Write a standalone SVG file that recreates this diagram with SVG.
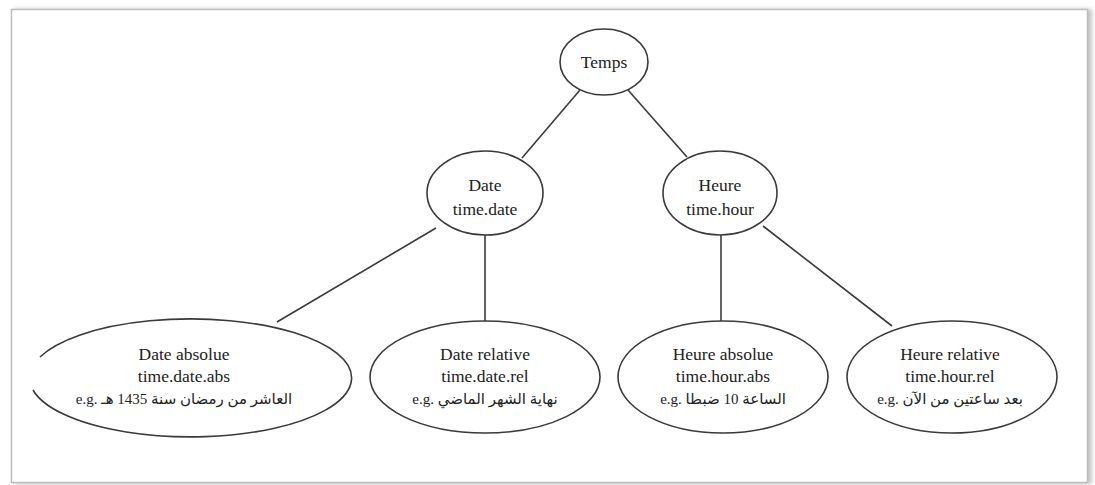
<svg xmlns="http://www.w3.org/2000/svg" width="1095" height="485" viewBox="0 0 1095 485">
<defs>
<filter id="sh" x="-5%" y="-5%" width="110%" height="110%"><feGaussianBlur stdDeviation="2"/></filter>
<style>
.n{fill:#fff;stroke:#3a3a3a;stroke-width:1.6}
.e{stroke:#3a3a3a;stroke-width:1.6;fill:none}
text{fill:#222;text-anchor:middle}
.t{font-size:17.5px}
.a{font-size:15px}
</style>
</defs>
<rect x="0" y="0" width="1095" height="485" fill="#fff"/>
<rect x="14" y="9" width="1078" height="475" fill="#c4c4c4" filter="url(#sh)"/>
<rect x="11.5" y="9.5" width="1076" height="473" fill="#fff" stroke="#bdbdbd" stroke-width="1.5"/>
<g id="connectors">
<line class="e" x1="580" y1="90" x2="522" y2="158"/>
<line class="e" x1="628" y1="90" x2="687" y2="157"/>
<line class="e" x1="436" y1="228" x2="277" y2="322"/>
<line class="e" x1="485" y1="235" x2="485" y2="321"/>
<line class="e" x1="721" y1="235" x2="721" y2="321"/>
<line class="e" x1="763" y1="226" x2="892" y2="326"/>
</g>
<g font-family="'Liberation Serif', 'Times New Roman', 'DejaVu Sans', serif">
<g id="temps">
<ellipse class="n" cx="604" cy="62" rx="44" ry="33"/>
<text class="t" x="604" y="68">Temps</text>
</g>
<g id="date">
<ellipse class="n" cx="485" cy="193" rx="58" ry="42"/>
<text class="t" x="485" y="191">Date</text>
<text class="t" x="485" y="215">time.date</text>
</g>
<g id="heure">
<ellipse class="n" cx="720" cy="193" rx="57" ry="42"/>
<text class="t" x="720" y="191">Heure</text>
<text class="t" x="720" y="215">time.hour</text>
</g>
<g id="date-absolue">
<path class="n" d="M 40,357 A 161 59 0 1 1 33,390"/>
<text class="t" x="184" y="360">Date absolue</text>
<text class="t" x="184" y="382">time.date.abs</text>
<text class="a" x="184" y="404">e.g. العاشر من رمضان سنة 1435 هـ</text>
</g>
<g id="date-relative">
<ellipse class="n" cx="485" cy="377" rx="115" ry="56"/>
<text class="t" x="485" y="360">Date relative</text>
<text class="t" x="485" y="382">time.date.rel</text>
<text class="a" x="485" y="404">e.g. نهاية الشهر الماضي</text>
</g>
<g id="heure-absolue">
<ellipse class="n" cx="723" cy="377" rx="105" ry="56"/>
<text class="t" x="723" y="360">Heure absolue</text>
<text class="t" x="723" y="382">time.hour.abs</text>
<text class="a" x="723" y="404">e.g. الساعة 10 ضبطا</text>
</g>
<g id="heure-relative">
<ellipse class="n" cx="952" cy="377" rx="105" ry="56"/>
<text class="t" x="950" y="360">Heure relative</text>
<text class="t" x="950" y="382">time.hour.rel</text>
<text class="a" x="950" y="404">e.g. بعد ساعتين من الآن</text>
</g>
</g>
</svg>
